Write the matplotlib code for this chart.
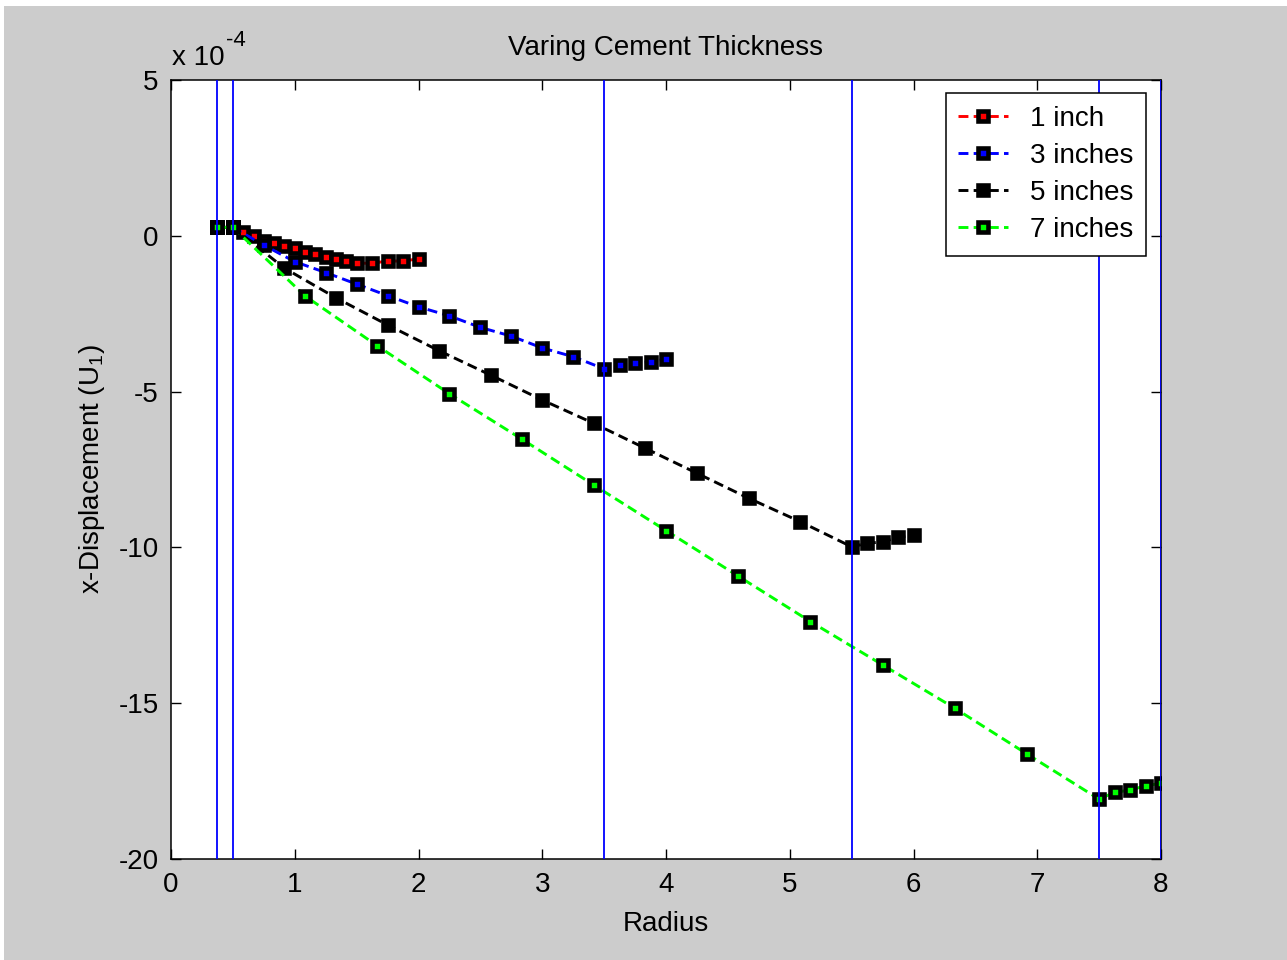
import matplotlib
matplotlib.use("Agg")
import matplotlib.pyplot as plt
from matplotlib.patches import Rectangle

plt.rcParams["font.family"] = ["Liberation Sans", "DejaVu Sans"]
plt.rcParams["axes.unicode_minus"] = False

# radius positions and x-displacement (units of 1e-4)
x_1in = [0.375, 0.5, 0.583, 0.667, 0.75, 0.833, 0.917, 1.0, 1.083, 1.167, 1.25,
         1.333, 1.417, 1.5, 1.625, 1.75, 1.875, 2.0]
y_1in = [0.27, 0.27, 0.13, 0.0, -0.16, -0.24, -0.32, -0.38, -0.53, -0.59, -0.67,
         -0.74, -0.82, -0.88, -0.88, -0.81, -0.81, -0.74]

x_3in = [0.375, 0.5, 0.75, 1.0, 1.25, 1.5, 1.75, 2.0, 2.25, 2.5, 2.75, 3.0,
         3.25, 3.5, 3.625, 3.75, 3.875, 4.0]
y_3in = [0.27, 0.27, -0.30, -0.83, -1.18, -1.55, -1.92, -2.28, -2.57, -2.94,
         -3.22, -3.60, -3.88, -4.27, -4.16, -4.09, -4.04, -3.96]

x_5in = [0.375, 0.5, 0.917, 1.333, 1.75, 2.167, 2.583, 3.0, 3.417, 3.833, 4.25,
         4.667, 5.083, 5.5, 5.625, 5.75, 5.875, 6.0]
y_5in = [0.27, 0.27, -1.04, -1.99, -2.86, -3.69, -4.47, -5.27, -6.02, -6.82,
         -7.62, -8.42, -9.17, -9.98, -9.87, -9.82, -9.68, -9.60]

x_7in = [0.375, 0.5, 1.083, 1.667, 2.25, 2.833, 3.417, 4.0, 4.583, 5.167, 5.75,
         6.333, 6.917, 7.5, 7.625, 7.75, 7.875, 8.0]
y_7in = [0.27, 0.27, -1.93, -3.53, -5.07, -6.52, -8.0, -9.46, -10.92, -12.38,
         -13.77, -15.16, -16.63, -18.08, -17.86, -17.79, -17.65, -17.57]

boundaries = [0.375, 0.5, 3.5, 5.5, 7.5, 8.0]
labels = ["1 inch", "3 inches", "5 inches", "7 inches"]
colors = ["#ff0000", "#0000ff", "#000000", "#00ff00"]
series = [(x_1in, y_1in), (x_3in, y_3in), (x_5in, y_5in), (x_7in, y_7in)]

fig = plt.figure(figsize=(12.87, 9.6), dpi=100, facecolor="white")
# gray MATLAB-style background, with the thin white strip top/left
fig.patches.append(Rectangle((4 / 1287, 0), 1, 1 - 6 / 960, transform=fig.transFigure,
                             facecolor="#cccccc", edgecolor="none", zorder=-10))

ax = fig.add_axes([171 / 1287, 1 - 859 / 960, 990 / 1287, 779 / 960])
ax.set_facecolor("white")

for (xs, ys), lab, col in zip(series, labels, colors):
    ax.plot(xs, ys, linestyle=(0, (3.4, 1.8)), lw=2.1, color=col,
            marker="s", markersize=6.6, markeredgewidth=3.3,
            markeredgecolor="black", markerfacecolor=col, label=lab)

for b in boundaries:
    ax.axvline(b, color="#0000ff", lw=1.3, zorder=5)

ax.set_xlim(0, 8)
ax.set_ylim(-20, 5)
ax.set_xticks(range(0, 9))
ax.set_yticks([-20, -15, -10, -5, 0, 5])
ax.tick_params(direction="in", length=7, width=1, labelsize=20,
               top=True, right=True, pad=9)
for s in ax.spines.values():
    s.set_linewidth(1.1)

ax.set_title("Varing Cement Thickness", fontsize=20, pad=18)
ax.set_xlabel("Radius", fontsize=20, labelpad=10)
ax.set_ylabel(r"x-Displacement (U$_\mathregular{1}$)", fontsize=20, labelpad=8)

# exponent label above the y axis, MATLAB style
fig.text(172 / 1287, 1 - 65 / 960, "x 10", fontsize=20, va="baseline", ha="left")
fig.text(226 / 1287, 1 - 46 / 960, "-4", fontsize=16, va="baseline", ha="left")

leg = ax.legend(loc="upper right", bbox_to_anchor=(0.985, 0.983), borderaxespad=0,
                fontsize=20, fancybox=False, framealpha=1, edgecolor="black",
                handlelength=1.8, handletextpad=0.8, labelspacing=0.4,
                borderpad=0.45)
leg.get_frame().set_linewidth(1.1)

fig.savefig("out.png", dpi=100, facecolor=fig.get_facecolor())
